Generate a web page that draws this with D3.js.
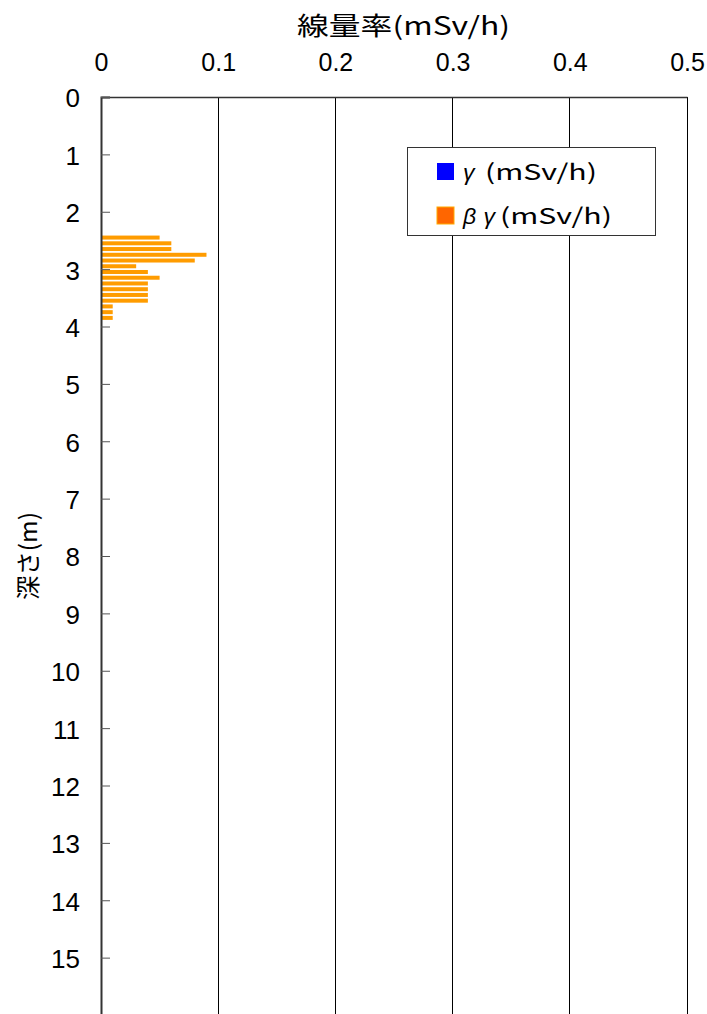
<!DOCTYPE html>
<html>
<head>
<meta charset="utf-8">
<script src="https://cdn.jsdelivr.net/npm/d3@7"></script>
<style>
body { margin: 0; background: #fff; }
text { font-family: "Liberation Sans", Arial, sans-serif; fill: #000; }
.jp { font-family: "Noto Sans CJK JP", sans-serif; }
</style>
</head>
<body>
<div id="chart"></div>
<script>
// depth of each reading (m) and beta-gamma dose rate (mSv/h)
var depths = [2.5, 2.6, 2.7, 2.8, 2.9, 3.0, 3.1, 3.2, 3.3, 3.4, 3.5, 3.6, 3.7, 3.8, 3.9];
var betaGamma = [0.05, 0.06, 0.06, 0.09, 0.08, 0.03, 0.04, 0.05, 0.04, 0.04, 0.04, 0.04, 0.01, 0.01, 0.01];
var xTicks = [0, 0.1, 0.2, 0.3, 0.4, 0.5];
var yTicks = [0, 1, 2, 3, 4, 5, 6, 7, 8, 9, 10, 11, 12, 13, 14, 15];
var legendSymbols = ["γ", "β γ"];
var legendUnit = "(mSv/h)";
var legendColors = ["#0000ff", "#ff6600"];

var W = 707, H = 1014;
var svg = d3.select("#chart").append("svg")
	.attr("width", W).attr("height", H);

var x = d3.scaleLinear().domain([0, 0.5]).range([101, 687]);
var y = d3.scaleLinear().domain([0, 16]).range([97, 1015]);

// vertical grid lines
svg.selectAll(".grid")
	.data(xTicks.slice(1))
	.enter().append("line")
	.attr("x1", d => x(d)).attr("x2", d => x(d))
	.attr("y1", y(0)).attr("y2", H)
	.attr("stroke", "#000").attr("stroke-width", 1)
	.attr("shape-rendering", "crispEdges");

// bars
svg.selectAll(".bar")
	.data(depths)
	.enter().append("rect")
	.attr("x", x(0))
	.attr("y", (d, i) => y(d - 0.05) - 2)
	.attr("width", (d, i) => x(betaGamma[i]) - x(0))
	.attr("height", 4)
	.attr("fill", "#ff9c00");

// top axis
var xAxis = d3.axisTop(x).tickValues(xTicks).tickSize(0).tickPadding(0)
	.tickFormat(d => d === 0 ? "0" : d3.format(".1f")(d));
var gx = svg.append("g").attr("transform", "translate(0," + y(0) + ")").call(xAxis);
gx.select(".domain").attr("stroke", "#333").attr("stroke-width", 1.5);
gx.selectAll("text").attr("y", -26).attr("dy", 0).attr("font-size", 25);

// left axis
var yAxis = d3.axisRight(y).tickValues(yTicks).tickSize(9).tickFormat(d3.format("d"));
var gy = svg.append("g").attr("transform", "translate(" + x(0) + ",0)").call(yAxis);
gy.select(".domain").attr("stroke", "#333").attr("stroke-width", 2);
gy.selectAll(".tick line").attr("stroke", "#555");
gy.selectAll("text").attr("x", -21).attr("dy", "0.38em").attr("text-anchor", "end").attr("font-size", 26);

// axis titles
svg.append("text").attr("class", "jp")
	.attr("x", 297).attr("y", 35)
	.attr("textLength", 213).attr("lengthAdjust", "spacingAndGlyphs")
	.attr("font-size", 25).text("線量率(mSv/h)");
svg.append("text").attr("class", "jp")
	.attr("transform", "translate(37,600) rotate(-90)")
	.attr("textLength", 88).attr("lengthAdjust", "spacingAndGlyphs")
	.attr("font-size", 24).text("深さ(m)");

// legend
var lg = svg.append("g");
lg.append("rect").attr("x", 407.5).attr("y", 147.5).attr("width", 248).attr("height", 88)
	.attr("fill", "#fff").attr("stroke", "#333");
var items = lg.selectAll(".item").data(legendSymbols).enter().append("g")
	.attr("transform", (d, i) => "translate(0," + (i * 44) + ")");
items.append("rect").attr("x", 437).attr("y", 163).attr("width", 17).attr("height", 17)
	.attr("fill", (d, i) => legendColors[i])
	.attr("stroke", (d, i) => i === 1 ? "#ffaa00" : "none");
items.append("text").attr("x", 463).attr("y", 180)
	.attr("font-size", 23).attr("font-style", "italic")
	.attr("textLength", (d, i) => i === 0 ? 15 : 32).attr("lengthAdjust", "spacing")
	.text(d => d);
items.append("text").attr("class", "jp").attr("x", (d, i) => i === 0 ? 485 : 500).attr("y", 180)
	.attr("font-size", 22).attr("textLength", 112).attr("lengthAdjust", "spacingAndGlyphs")
	.text(legendUnit);
</script>
</body>
</html>
